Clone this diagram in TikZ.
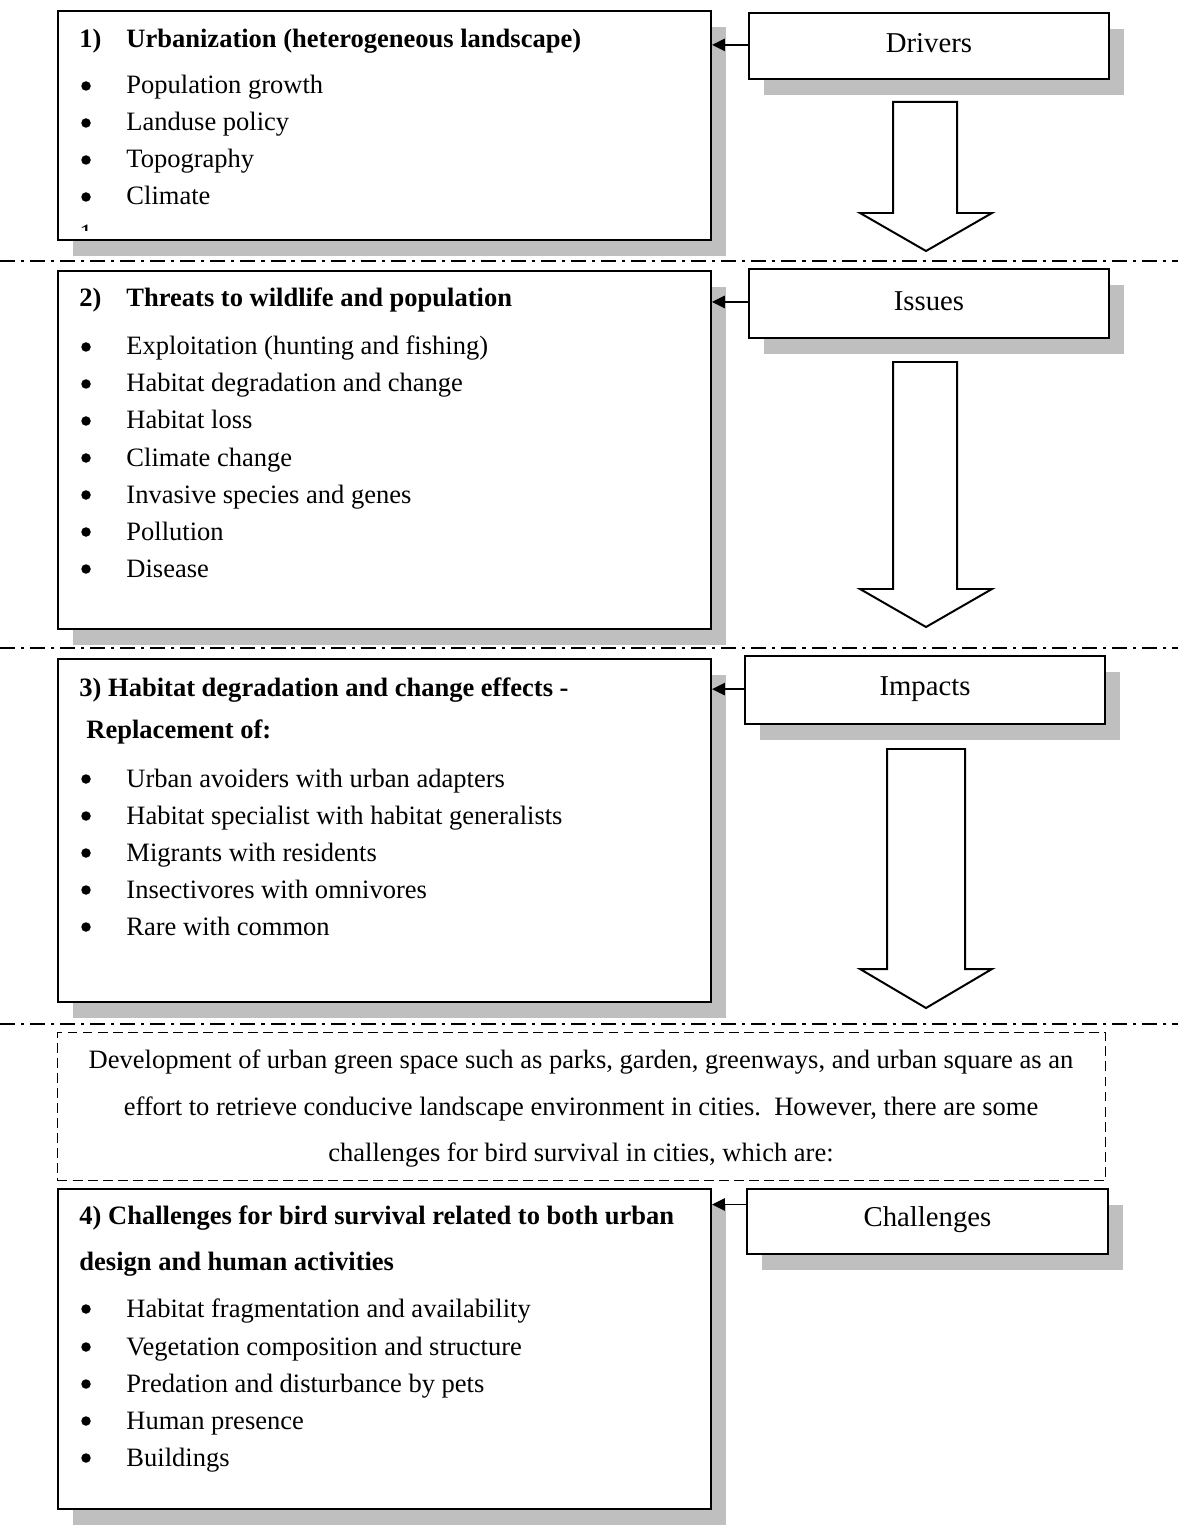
\documentclass[tikz,border=0pt]{standalone}
\usepackage{fontspec}
\setmainfont{Liberation Serif}
\usetikzlibrary{shadows,arrows.meta,calc}
\definecolor{shadowgray}{RGB}{191,191,191}
\newcommand\pxu{0.4525pt}
\newcommand\bul[3]{%
  \node[dotb] (#1b) at (86,#2-8) {};
  \node[txt] (#1) at (126,#2) {#3};}
\begin{document}
\begin{tikzpicture}[x=0.4525pt,y=-0.4525pt,
 mainbox/.style={draw, line width=0.9pt, fill=white, anchor=north west, inner sep=0pt,
   drop shadow={shadow xshift=6.8pt, shadow yshift=-7.2pt, fill=shadowgray, opacity=1}},
 labelbox/.style={mainbox, font=\fontsize{13}{15}\selectfont},
 labeltxt/.style={font=\fontsize{13}{15}\selectfont, inner sep=0pt},
 txt/.style={anchor=base west, inner sep=0pt, font=\fontsize{12}{14}\selectfont},
 ttl/.style={txt, font=\fontsize{12}{14}\selectfont\bfseries},
 dotb/.style={circle, fill=black, inner sep=0pt, minimum size=4.3pt},
 sepline/.style={line width=0.7pt, dash pattern=on 6.8pt off 2.7pt on 1.4pt off 2.7pt},
 bigarrow/.style={draw, line width=0.9pt, fill=white},
 link/.style={-{Triangle[length=5.8pt,width=5.6pt]}, line width=0.6pt},
 dashbox/.style={draw, line width=0.5pt, dash pattern=on 4.5pt off 2.3pt, anchor=north west, inner sep=0pt}
]
\useasboundingbox (0,0) rectangle (1178,1526);

% main boxes
\node[mainbox, minimum width=653*\pxu, minimum height=229*\pxu] (b1) at (57,10) {};
\node[mainbox, minimum width=653*\pxu, minimum height=358*\pxu] (b2) at (57,270) {};
\node[mainbox, minimum width=653*\pxu, minimum height=343*\pxu] (b3) at (57,658) {};
\node[mainbox, minimum width=653*\pxu, minimum height=320*\pxu] (b4) at (57,1188) {};
\node[dashbox, minimum width=1048*\pxu, minimum height=148*\pxu] (db) at (57,1032) {};

% label boxes
\node[labelbox, minimum width=360*\pxu, minimum height=66*\pxu] (drv) at (748,12) {};
\node[labelbox, minimum width=360*\pxu, minimum height=69*\pxu] (iss) at (748,268) {};
\node[labelbox, minimum width=360*\pxu, minimum height=68*\pxu] (imp) at (744,655) {};
\node[labelbox, minimum width=361*\pxu, minimum height=65*\pxu] (cha) at (746,1188) {};
\node[labeltxt] (drvt) at ([yshift=1.3pt]drv.center) {Drivers};
\node[labeltxt] (isst) at ([yshift=0.9pt]iss.center) {Issues};
\node[labeltxt] (impt) at ([yshift=0.4pt]imp.center) {Impacts};
\node[labeltxt] (chat) at ([yshift=0.8pt]cha.center) {Challenges};

% links
\draw[link] ([yshift=0.5pt]drv.west) -- ([yshift=0.5pt]drv.west -| b1.east);
\draw[link] ([yshift=0.7pt]iss.west) -- ([yshift=0.7pt]iss.west -| b2.east);
\draw[link] ([yshift=0.4pt]imp.west) -- ([yshift=0.4pt]imp.west -| b3.east);
\draw[link] ([yshift=7.7pt]cha.west) -- ([yshift=7.7pt]cha.west -| b4.east);

% hollow arrows
\draw[bigarrow] (893,102) -- (957,102) -- (957,213) -- (992,213) -- (926,251) -- (860,213) -- (893,213) -- cycle;
\draw[bigarrow] (893,362) -- (957,362) -- (957,589) -- (992,589) -- (926,627) -- (860,589) -- (893,589) -- cycle;
\draw[bigarrow] (887,749) -- (965,749) -- (965,969) -- (992,969) -- (926,1008) -- (860,969) -- (887,969) -- cycle;

% separators
\draw[sepline] (0,261) -- (1178,261);
\draw[sepline] (0,648) -- (1178,648);
\draw[sepline] (0,1024) -- (1178,1024);

% box 1
\node[ttl] (t1n) at (79,48) {1)};
\node[ttl] (t1) at (126,48) {Urbanization (heterogeneous landscape)};
\bul{a1}{94}{Population growth}
\bul{a2}{131}{Landuse policy}
\bul{a3}{168}{Topography}
\bul{a4}{205}{Climate}
\begin{scope}
\clip (76,223) rectangle (92,231);
\node[txt] (cut) at (79,243) {1};
\end{scope}

% box 2
\node[ttl] (t2n) at (79,307) {2)};
\node[ttl] (t2) at (126,307) {Threats to wildlife and population};
\bul{c1}{355}{Exploitation (hunting and fishing)}
\bul{c2}{392}{Habitat degradation and change}
\bul{c3}{429}{Habitat loss}
\bul{c4}{466}{Climate change}
\bul{c5}{503}{Invasive species and genes}
\bul{c6}{540}{Pollution}
\bul{c7}{577}{Disease}

% box 3
\node[ttl] (t3) at (79,696) {3) Habitat degradation and change effects -};
\node[ttl] (t3b) at (86,738) {Replacement of:};
\bul{d1}{787}{Urban avoiders with urban adapters}
\bul{d2}{824}{Habitat specialist with habitat generalists}
\bul{d3}{861}{Migrants with residents}
\bul{d4}{898}{Insectivores with omnivores}
\bul{d5}{935}{Rare with common}

% dashed text
\node[txt,anchor=base] (g1) at (581,1068) {Development of urban green space such as parks, garden, greenways, and urban square as an};
\node[txt,anchor=base] (g2) at (581,1115) {effort to retrieve conducive landscape environment in cities.\ \ However, there are some};
\node[txt,anchor=base] (g3) at (581,1161) {challenges for bird survival in cities, which are:};

% box 4
\node[ttl] (t4) at (79,1224) {4) Challenges for bird survival related to both urban};
\node[ttl] (t4b) at (79,1270) {design and human activities};
\bul{e1}{1317}{Habitat fragmentation and availability}
\bul{e2}{1355}{Vegetation composition and structure}
\bul{e3}{1392}{Predation and disturbance by pets}
\bul{e4}{1429}{Human presence}
\bul{e5}{1466}{Buildings}
\end{tikzpicture}
\end{document}
